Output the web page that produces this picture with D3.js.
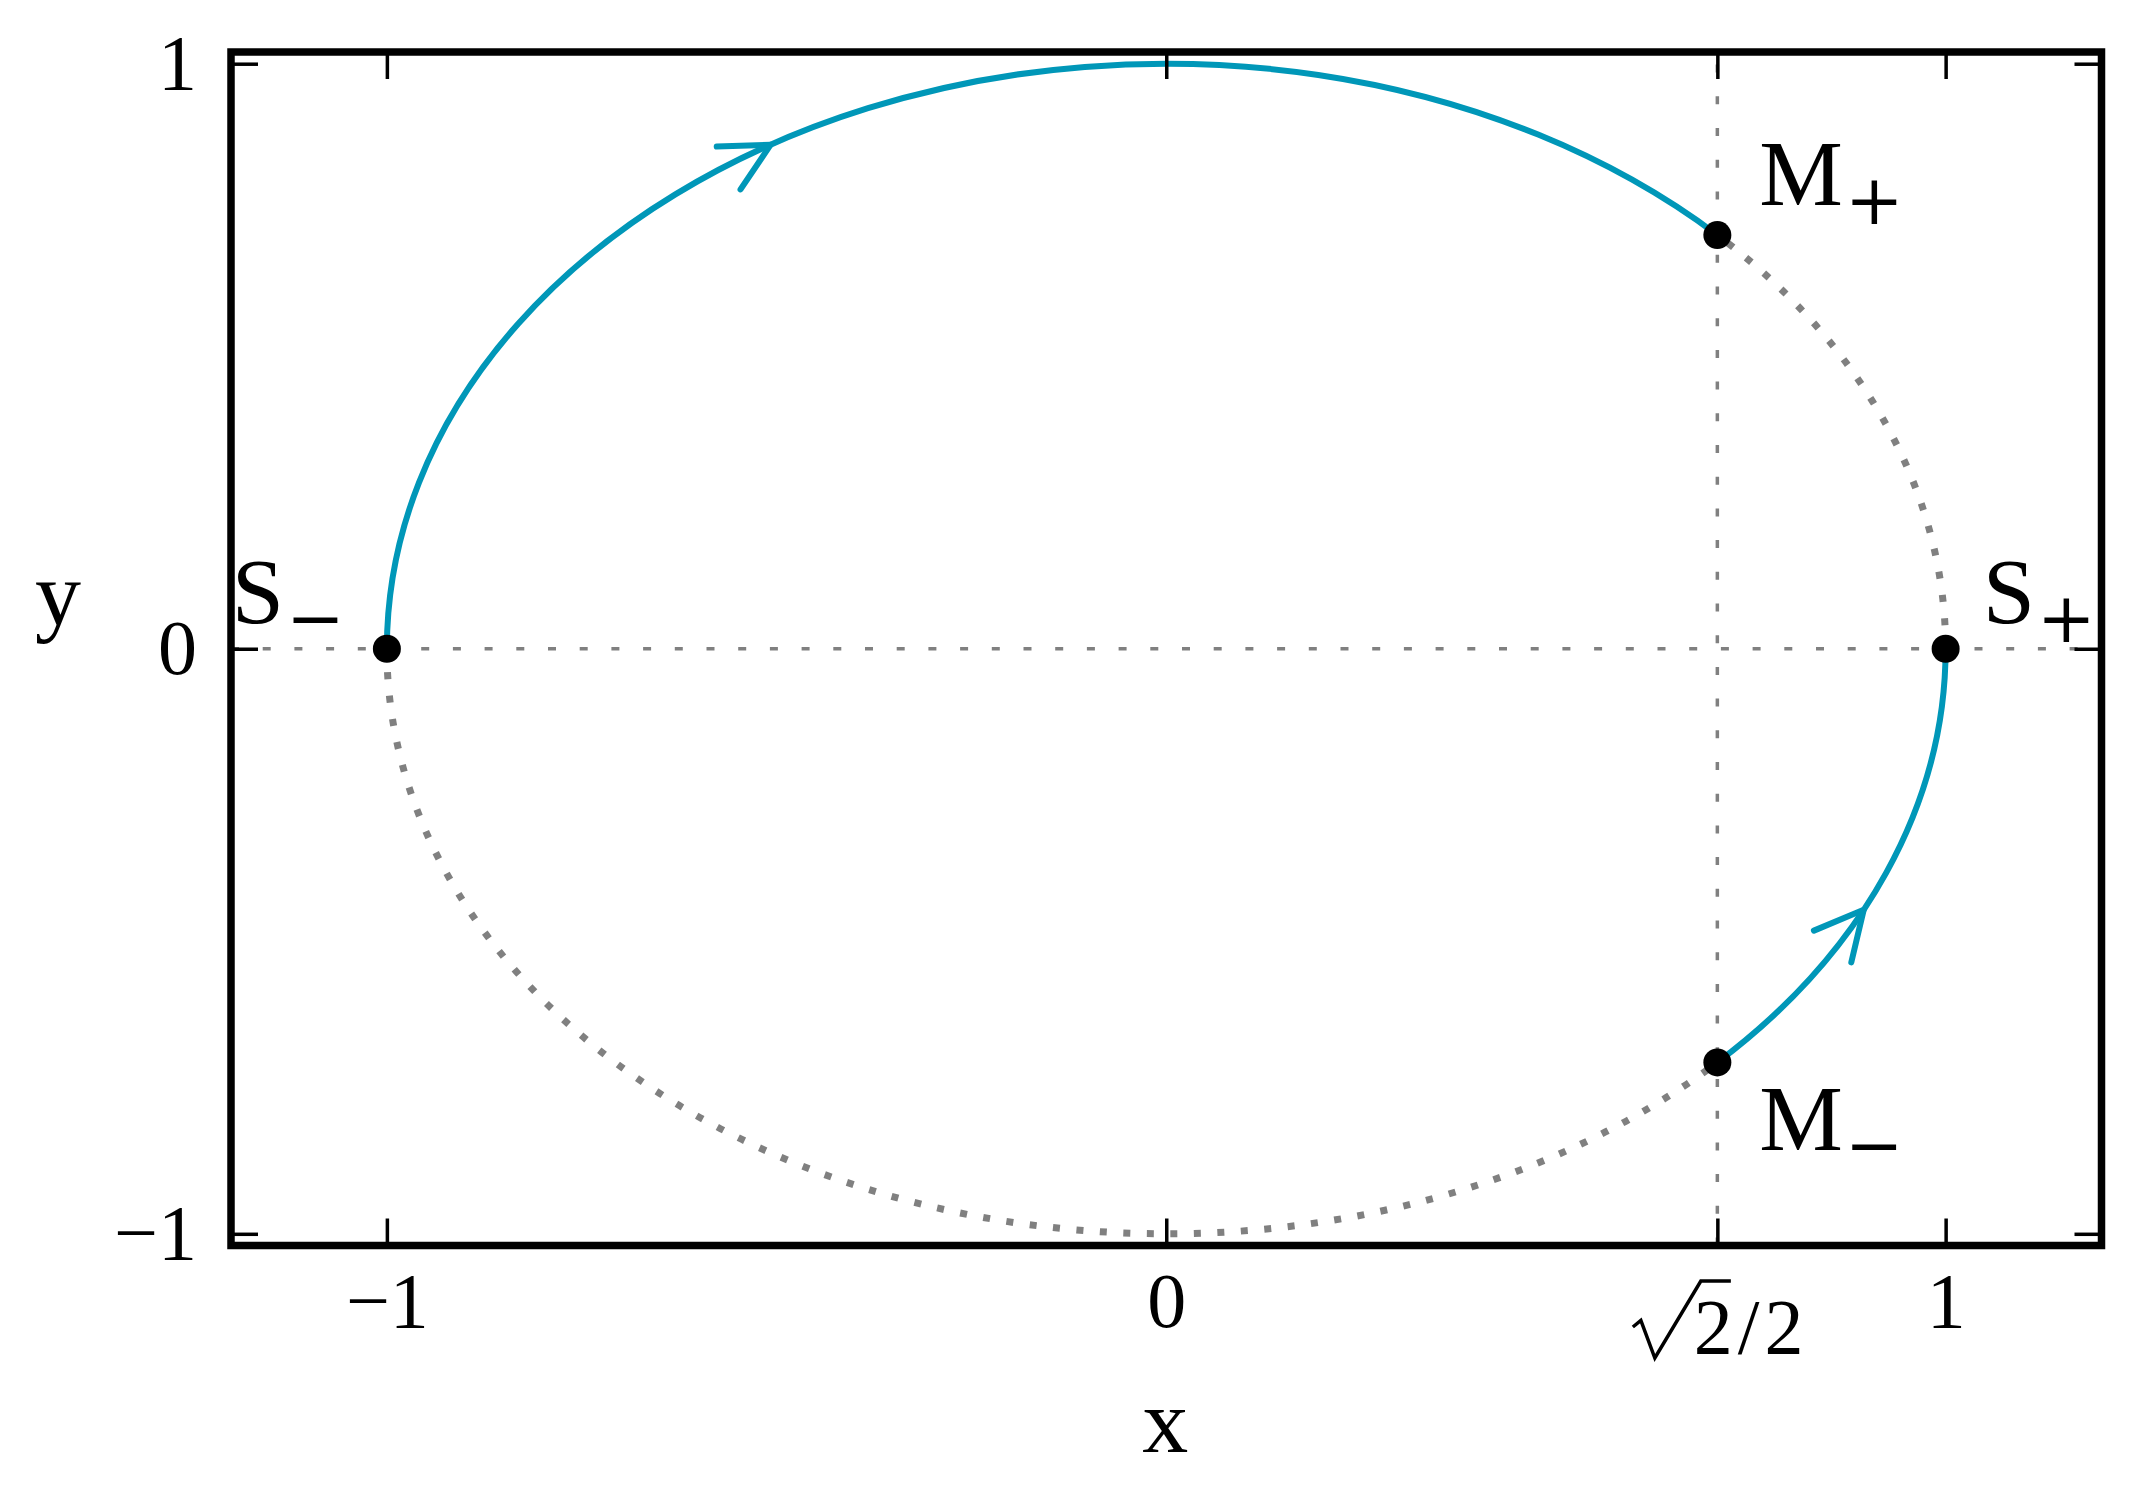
<!DOCTYPE html>
<html>
<head>
<meta charset="utf-8">
<script src="https://cdn.jsdelivr.net/npm/d3@7"></script>
<style>
  body { margin: 0; background: #fff; }
  text { font-family: "Liberation Serif", "DejaVu Serif", serif; fill: #000; }
</style>
</head>
<body>
<div id="chart"></div>
<script>
// Data
var xDomain = [-1.2, 1.2];
var yDomain = [-1.02, 1.02];
var xTicks = [-1, 0, Math.SQRT1_2, 1];
var xTickLabels = ["\u22121", "0", "\u221a2/2", "1"];
var yTicks = [-1, 0, 1];
var yTickLabels = ["\u22121", "0", "1"];

// fixed points on the unit circle
var pointNames = ["S", "S", "M", "M"];
var pointSubs = ["\u2212", "+", "+", "\u2212"];
var pointX = [-1, 1, Math.SQRT1_2, Math.SQRT1_2];
var pointY = [0, 0, Math.SQRT1_2, -Math.SQRT1_2];

// arcs between points (index pairs, counter-clockwise from first to second)
var solidArcs = [[2, 0], [3, 1]];
var dottedArcs = [[0, 3], [1, 2]];

// arrows on the flow: angle on the circle (deg) and sense (+1 = ccw)
var arrowAngles = [120.5, -26.5];
var arrowSense = [-1, 1];

// Layout
var svgWidth = 2133;
var svgHeight = 1494;
var margin = { top: 52, right: 31.5, bottom: 248.5, left: 231 };
var width = svgWidth - margin.left - margin.right;
var height = svgHeight - margin.top - margin.bottom;

var blue = "#0097b8";
var gray = "#808080";
var tickFont = 78, noteFont = 94, subFont = 70, labelFont = 92;
// label offsets from the marker (pixels)
var noteOffsets = [[-155, -26], [37, -26], [42, -30], [42, 88]];

var svg = d3.select("#chart")
  .append("svg")
  .attr("width", svgWidth)
  .attr("height", svgHeight);

var chartGroup = svg.append("g")
  .attr("transform", `translate(${margin.left}, ${margin.top})`);

var x = d3.scaleLinear().domain(xDomain).range([0, width]);
var y = d3.scaleLinear().domain(yDomain).range([height, 0]);

// Guide lines
chartGroup.append("line")
  .attr("x1", 0).attr("x2", width)
  .attr("y1", y(0)).attr("y2", y(0))
  .attr("stroke", gray).attr("stroke-width", 3.5)
  .attr("stroke-dasharray", "8 23.7");

chartGroup.append("line")
  .attr("x1", x(Math.SQRT1_2)).attr("x2", x(Math.SQRT1_2))
  .attr("y1", height).attr("y2", 0)
  .attr("stroke", gray).attr("stroke-width", 3.5)
  .attr("stroke-dasharray", "8 23.7");

// Arcs of the unit circle
var rx = x(1) - x(0);
var ry = y(0) - y(1);
function arcPath(pair) {
  var a = pair[0], b = pair[1];
  return `M${x(pointX[a])},${y(pointY[a])} A${rx},${ry} 0 0 0 ${x(pointX[b])},${y(pointY[b])}`;
}

chartGroup.selectAll(".dotted")
  .data(dottedArcs)
  .enter()
  .append("path")
  .attr("class", "dotted")
  .attr("d", arcPath)
  .attr("fill", "none")
  .attr("stroke", gray)
  .attr("stroke-width", 7)
  .attr("stroke-dasharray", "7 16.5");

chartGroup.selectAll(".solid")
  .data(solidArcs)
  .enter()
  .append("path")
  .attr("class", "solid")
  .attr("d", arcPath)
  .attr("fill", "none")
  .attr("stroke", blue)
  .attr("stroke-width", 6);

// Arrow heads
function circlePt(t) { return [x(Math.cos(t)), y(Math.sin(t))]; }
arrowAngles.forEach(function(deg, i) {
  var t = deg * Math.PI / 180;
  var prev = circlePt(t - arrowSense[i] * 12 * Math.PI / 180);
  var tip = circlePt(t);
  var a = Math.atan2(tip[1] - prev[1], tip[0] - prev[0]);
  var L = 54, h = 27 * Math.PI / 180;
  var b1 = [tip[0] - L * Math.cos(a - h), tip[1] - L * Math.sin(a - h)];
  var b2 = [tip[0] - L * Math.cos(a + h), tip[1] - L * Math.sin(a + h)];
  chartGroup.append("path")
    .attr("d", `M${b1[0]},${b1[1]} L${tip[0]},${tip[1]} L${b2[0]},${b2[1]}`)
    .attr("fill", "none")
    .attr("stroke", blue)
    .attr("stroke-width", 6)
    .attr("stroke-linecap", "round")
    .attr("stroke-linejoin", "round");
});

// Points
chartGroup.selectAll(".pt")
  .data(pointX)
  .enter()
  .append("circle")
  .attr("class", "pt")
  .attr("cx", function(d) { return x(d); })
  .attr("cy", function(d, i) { return y(pointY[i]); })
  .attr("r", 14)
  .attr("fill", "#000");

// Point labels
var notes = chartGroup.selectAll(".note")
  .data(pointX)
  .enter()
  .append("text")
  .attr("class", "note")
  .attr("x", function(d, i) { return x(d) + noteOffsets[i][0]; })
  .attr("y", function(d, i) { return y(pointY[i]) + noteOffsets[i][1]; })
  .style("font-size", noteFont + "px");
notes.append("tspan").text(function(d, i) { return pointNames[i]; });
notes.append("tspan")
  .attr("dx", 2)
  .attr("dy", 19)
  .style("font-family", "'DejaVu Serif', serif")
  .style("font-size", subFont + "px")
  .text(function(d, i) { return pointSubs[i]; });

// Axes (ticks inward on all four sides)
function styleAxis(g) {
  g.select(".domain").remove();
  g.selectAll(".tick line").attr("stroke", "#000").attr("stroke-width", 3.5);
  g.selectAll(".tick text")
    .style("font-family", "'Liberation Serif', serif")
    .style("font-size", tickFont + "px")
    .attr("fill", "#000");
}

var bottomAxis = d3.axisBottom(x).tickValues(xTicks).tickSizeInner(-27).tickSizeOuter(0)
  .tickPadding(26).tickFormat(function(d, i) { return xTickLabels[i]; });
var topAxis = d3.axisTop(x).tickValues(xTicks).tickSizeInner(-27).tickSizeOuter(0).tickFormat("");
var leftAxis = d3.axisLeft(y).tickValues(yTicks).tickSizeInner(-27).tickSizeOuter(0)
  .tickPadding(34).tickFormat(function(d, i) { return yTickLabels[i]; });
var rightAxis = d3.axisRight(y).tickValues(yTicks).tickSizeInner(-27).tickSizeOuter(0).tickFormat("");

var gBottom = chartGroup.append("g")
  .attr("transform", `translate(0, ${height})`)
  .call(bottomAxis).call(styleAxis);
chartGroup.append("g").call(topAxis).call(styleAxis);
chartGroup.append("g").call(leftAxis).call(styleAxis);
chartGroup.append("g").attr("transform", `translate(${width}, 0)`).call(rightAxis).call(styleAxis);

// sqrt(2)/2 label drawn with a radical sign
gBottom.selectAll(".tick")
  .filter(function(d) { return d === Math.SQRT1_2; })
  .each(function() {
    var tick = d3.select(this);
    tick.select("text")
      .attr("x", -24).attr("y", 107.5).attr("dy", null)
      .attr("text-anchor", "start")
      .style("letter-spacing", "5px")
      .text("2/2");
    tick.append("path")
      .attr("d", "M-85,81.5 L-77,75 L-63,112.5 L-17,35.5 L13,35.5")
      .attr("fill", "none")
      .attr("stroke", "#000")
      .attr("stroke-width", 3.5)
      .attr("stroke-linejoin", "miter");
  });

// Frame
chartGroup.append("rect")
  .attr("x", 0).attr("y", 0)
  .attr("width", width).attr("height", height)
  .attr("fill", "none")
  .attr("stroke", "#000")
  .attr("stroke-width", 7.5);

// Axis labels
svg.append("text")
  .attr("x", margin.left + x(0) - 1)
  .attr("y", 1452)
  .attr("text-anchor", "middle")
  .style("font-size", labelFont + "px")
  .text("x");

svg.append("text")
  .attr("x", 58)
  .attr("y", 625)
  .attr("text-anchor", "middle")
  .style("font-size", labelFont + "px")
  .text("y");
</script>
</body>
</html>
